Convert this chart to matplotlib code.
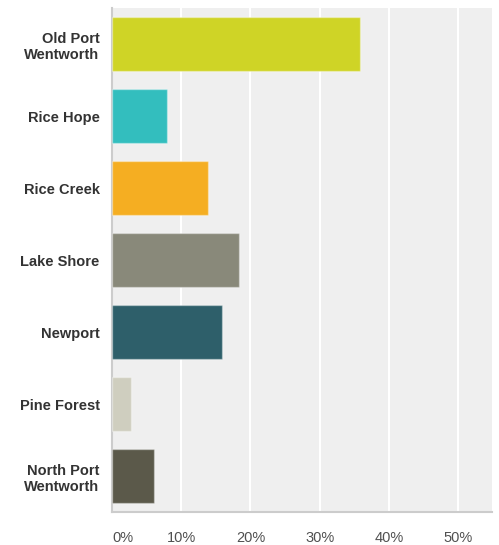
import matplotlib.pyplot as plt
from matplotlib.ticker import PercentFormatter

plt.rcParams['font.family'] = ['Liberation Sans', 'DejaVu Sans']

# survey answers, top to bottom
categories = ["Old Port\nWentworth", "Rice Hope", "Rice Creek", "Lake Shore",
              "Newport", "Pine Forest", "North Port\nWentworth"]
shares = [35.9, 7.9, 13.8, 18.3, 15.9, 2.8, 6.1]
colors = ["#cfd426", "#33bebe", "#f5ae22", "#89897a",
          "#2e5f6a", "#cfcebf", "#5b594a"]
x_ticks = [0, 10, 20, 30, 40, 50]

fig = plt.figure(figsize=(4.99, 5.45), dpi=100)
ax = fig.add_axes([112 / 499, 33 / 545, 380 / 499, 504 / 545])

pos = range(len(categories))
ax.barh(pos, shares, height=0.75, color=colors,
        edgecolor=(1, 1, 1, 0.35), linewidth=1, zorder=3)

ax.set_facecolor("#efefef")
ax.set_xlim(0, 54.9)
ax.set_ylim(len(categories) - 0.5, -0.5)
ax.set_xticks(x_ticks)
ax.xaxis.set_major_formatter(PercentFormatter(decimals=0))
ax.grid(axis="x", color="white", linewidth=1.5, zorder=1)
ax.set_yticks(list(pos))
ax.set_yticklabels(categories, fontweight="bold", fontsize=10.5, color="#333333",
                   linespacing=1.25)

for side in ("top", "right"):
    ax.spines[side].set_visible(False)
for side in ("left", "bottom"):
    ax.spines[side].set_color("#cccccc")
    ax.spines[side].set_linewidth(1.5)

ax.tick_params(axis="y", length=0, pad=9)
ax.tick_params(axis="x", length=0, pad=14, labelsize=10.5, labelcolor="#505050")

# the first label sits to the right of the axis in the original
fig.canvas.draw()
ax.get_xticklabels()[0].set_horizontalalignment("left")

fig.savefig("out.png", dpi=100)
